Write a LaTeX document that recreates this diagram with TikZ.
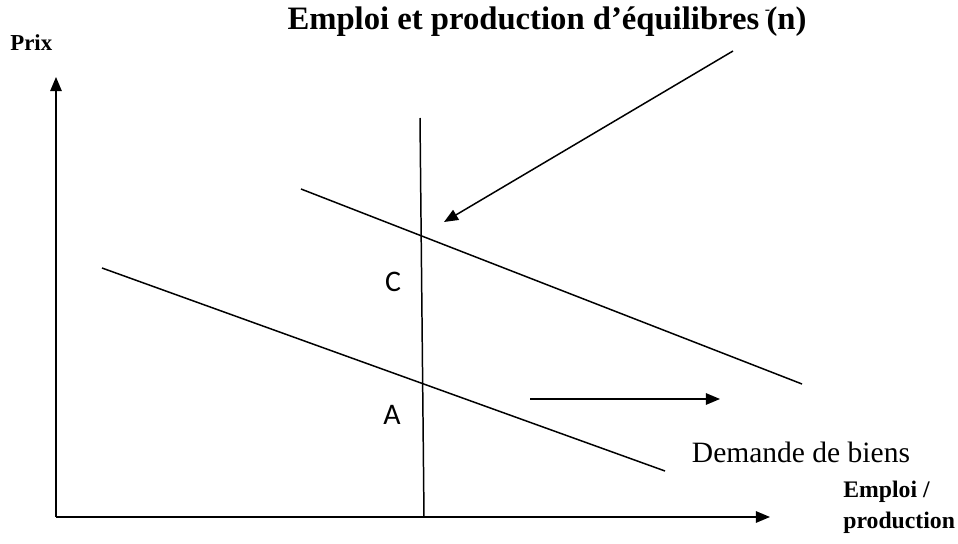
\documentclass[tikz,border=0pt]{standalone}
\usepackage{fontspec}
\setmainfont{Liberation Serif}
\newfontfamily\calib{Carlito}
\usetikzlibrary{arrows.meta}
\tikzset{
  ln/.style={line width=0.85pt},
  arr/.style={-{Triangle[length=8pt, width=6.5pt]}, line width=0.85pt},
  lbl/.style={inner sep=0pt, font=\fontsize{13.5}{17.5}\selectfont\bfseries, align=left},
  pt/.style={inner sep=0pt, font=\calib\fontsize{17}{19}\selectfont},
}
\begin{document}
\begin{tikzpicture}[x=0.02cm, y=-0.02cm]
\useasboundingbox (0,0) rectangle (958,544);

% axes
\coordinate (origin) at (56,517);
\coordinate (ytop) at (56,77);
\coordinate (xend) at (770,517);
\draw[arr] (origin) -- (ytop);
\draw[arr] (origin) -- (xend);
\node[lbl, font=\fontsize{13}{15}\selectfont\bfseries, anchor=west] (prix) at (10,43) {Prix};
\node[lbl, anchor=north west] (emp) at (843,481) {Emploi /\\production};

% vertical line
\coordinate (vtop) at (420,118);
\coordinate (vbot) at (424,517);
\draw[ln] (vtop) -- (vbot);

% demand lines
\coordinate (d1a) at (102,268);
\coordinate (d1b) at (665,471);
\coordinate (d2a) at (301,189);
\coordinate (d2b) at (802,384);
\draw[ln] (d1a) -- (d1b);
\draw[ln] (d2a) -- (d2b);

\node[pt] (C) at (393,282) {C};
\node[pt] (A) at (392,415) {A};

% shift arrow
\coordinate (sa) at (530,399);
\coordinate (sb) at (720,399);
\draw[arr] (sa) -- (sb);
\node[inner sep=0pt, font=\fontsize{16.8}{20}\selectfont] (dem) at (801,452) {Demande de biens};

% title + pointer
\node[inner sep=0pt, font=\fontsize{18.6}{22}\selectfont\bfseries] (title) at (547,22)
  {Emploi et production d’équilibres\,\raisebox{1.0ex}{\textmd{\fontsize{9}{9}\selectfont -}}\kern-2pt(n)};
\coordinate (pa) at (733,51);
\coordinate (pb) at (444,222);
\draw[arr] (pa) -- (pb);

\end{tikzpicture}
\end{document}
